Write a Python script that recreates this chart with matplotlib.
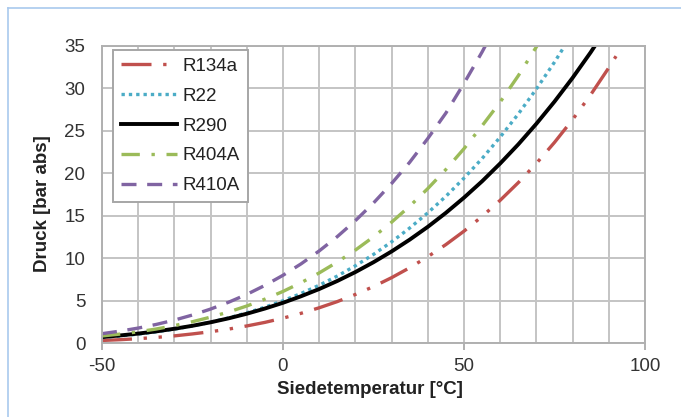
import numpy as np
import matplotlib
matplotlib.use("Agg")
import matplotlib.pyplot as plt
from matplotlib.lines import Line2D

plt.rcParams['font.family'] = ['Liberation Sans', 'DejaVu Sans']
plt.rcParams['axes.unicode_minus'] = False

# Siedetemperatur [°C] und Druck [bar abs]
t_r134a = [-50, -45, -40, -35, -30, -25, -20, -15, -10, -5, 0, 5, 10, 15, 20, 25, 30, 35, 40, 45, 50, 55, 60, 65, 70, 75, 80, 85, 90, 92]
p_r134a = [0.30, 0.39, 0.51, 0.66, 0.84, 1.07, 1.33, 1.64, 2.01, 2.43, 2.93, 3.50, 4.15, 4.88, 5.72, 6.65, 7.70, 8.87, 10.17, 11.60, 13.18, 14.92, 16.82, 18.90, 21.17, 23.64, 26.33, 29.26, 32.44, 33.80]

t_r22 = [-50, -45, -40, -35, -30, -25, -20, -15, -10, -5, 0, 5, 10, 15, 20, 25, 30, 35, 40, 45, 50, 55, 60, 65, 70, 75, 80]
p_r22 = [0.64, 0.83, 1.05, 1.32, 1.64, 2.01, 2.45, 2.96, 3.55, 4.22, 4.98, 5.84, 6.81, 7.89, 9.10, 10.44, 11.92, 13.55, 15.34, 17.29, 19.43, 21.74, 24.27, 26.99, 29.94, 33.10, 36.50]

t_r290 = [-50, -45, -40, -35, -30, -25, -20, -15, -10, -5, 0, 5, 10, 15, 20, 25, 30, 35, 40, 45, 50, 55, 60, 65, 70, 75, 80, 85, 90]
p_r290 = [0.70, 0.89, 1.11, 1.37, 1.68, 2.03, 2.44, 2.91, 3.45, 4.06, 4.74, 5.51, 6.36, 7.31, 8.36, 9.52, 10.79, 12.18, 13.69, 15.34, 17.13, 19.06, 21.16, 23.41, 25.84, 28.45, 31.25, 34.26, 37.50]

t_r404a = [-50, -45, -40, -35, -30, -25, -20, -15, -10, -5, 0, 5, 10, 15, 20, 25, 30, 35, 40, 45, 50, 55, 60, 65, 70, 75]
p_r404a = [0.83, 1.05, 1.32, 1.65, 2.05, 2.51, 3.05, 3.66, 4.36, 5.17, 6.08, 7.11, 8.26, 9.54, 10.95, 12.51, 14.24, 16.12, 18.20, 20.45, 22.90, 25.60, 28.40, 31.50, 34.90, 38.60]

t_r410a = [-50, -45, -40, -35, -30, -25, -20, -15, -10, -5, 0, 5, 10, 15, 20, 25, 30, 35, 40, 45, 50, 55, 60]
p_r410a = [1.10, 1.40, 1.76, 2.19, 2.70, 3.30, 4.00, 4.81, 5.73, 6.79, 7.98, 9.33, 10.85, 12.54, 14.42, 16.50, 18.80, 21.30, 24.10, 27.10, 30.60, 34.30, 38.30]

fig = plt.figure(figsize=(6.81, 4.17), dpi=100)
ax = fig.add_axes([102/681, 1-343/417, 543/681, 297/417])

lw = 2.4
ax.plot(t_r134a, p_r134a, color='#C0504D', lw=lw, dashes=(9, 3.5, 1, 3.5, 1, 3.5), label='R134a')
ax.plot(t_r22, p_r22, color='#4BACC6', lw=lw, dashes=(1, 1.2), label='R22')
ax.plot(t_r290, p_r290, color='black', lw=2.8, label='R290')
ax.plot(t_r404a, p_r404a, color='#9BBB59', lw=lw, dashes=(5.5, 3.5, 1, 3.5), label='R404A')
ax.plot(t_r410a, p_r410a, color='#8064A2', lw=lw, dashes=(4.5, 3.2), label='R410A')

ax.set_xlim(-50, 100)
ax.set_ylim(0, 35)
ax.set_xticks([-50, 0, 50, 100])
ax.set_xticks(np.arange(-50, 101, 10), minor=True)
ax.set_yticks(np.arange(0, 36, 5))

gridc = '#c4c4c4'
ax.grid(True, which='both', axis='x', color=gridc, lw=1.4)
ax.grid(True, which='major', axis='y', color=gridc, lw=1.4)
ax.set_axisbelow(True)
for s in ax.spines.values():
    s.set_color('#b0b0b0')
    s.set_linewidth(1.4)

ax.tick_params(axis='x', which='major', length=5, width=1.4, color='#b0b0b0', pad=6, labelsize=13.5, labelcolor='#333333')
ax.tick_params(axis='x', which='minor', length=0)
ax.tick_params(axis='y', length=0, pad=12, labelsize=13.5, labelcolor='#333333')

ax.set_xlabel('Siedetemperatur [°C]', fontsize=13.5, fontweight='bold', color='#222222')
ax.xaxis.set_label_coords(0.494, -0.155)
ax.xaxis.label.set_verticalalignment('center')
ax.set_ylabel('Druck [bar abs]', fontsize=13.5, fontweight='bold', color='#222222')
ax.yaxis.set_label_coords(-0.109, 0.468)
ax.yaxis.label.set_verticalalignment('center')

leg = ax.legend(loc='upper left', bbox_to_anchor=(0.02, 0.987), borderaxespad=0,
                fontsize=13.5, handlelength=3.0, handletextpad=0.3, labelspacing=0.68,
                borderpad=0.42, fancybox=False, framealpha=1)
leg.get_frame().set_edgecolor('#a6a6a6')
leg.get_frame().set_linewidth(1.4)
for txt in leg.get_texts():
    txt.set_color('#222222')

# hellblauer Rahmen oben und links
fig.add_artist(Line2D([8/681, 1], [1-8/417, 1-8/417], color='#a9c9ee', lw=1.2))
fig.add_artist(Line2D([8/681, 8/681], [0, 1-8/417], color='#a9c9ee', lw=1.2))

fig.savefig('out.png', dpi=100)
